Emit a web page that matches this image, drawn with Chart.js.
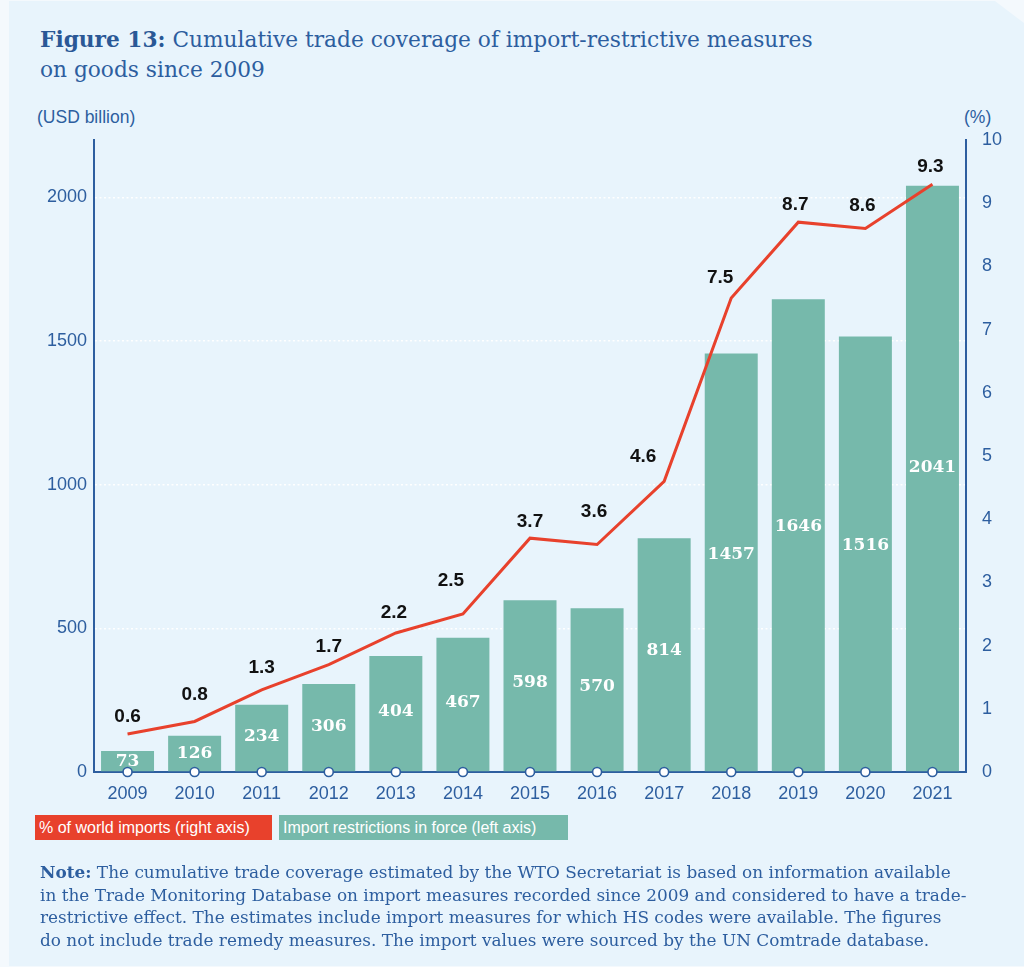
<!DOCTYPE html>
<html>
<head>
<meta charset="utf-8">
<script src="https://cdn.jsdelivr.net/npm/chart.js@4/dist/chart.umd.min.js"></script>
<style>
  html, body { margin: 0; padding: 0; }
  body { width: 1024px; height: 967px; background: #f4f9fd; position: relative; overflow: hidden; }
  #painel {
    position: absolute; left: 9px; top: 1px; width: 1015px; height: 965px;
    background: #e8f4fc;
    clip-path: polygon(0 0, 986px 0, 1015px 22px, 1015px 965px, 0 965px);
  }
  #titulo {
    position: absolute; left: 40px; top: 25px; margin: 0;
    font-family: "DejaVu Serif", serif; font-size: 21.7px; line-height: 30px;
    color: #2d5e9f; font-weight: normal; white-space: nowrap;
  }
  #titulo b { color: #2a5896; }
  .unidade {
    position: absolute; top: 107px; font-family: "Liberation Sans", Arial, sans-serif;
    font-size: 17.5px; color: #2d5e9f;
  }
  #grafico-wrap { position: absolute; left: 0; top: 0; width: 1024px; height: 967px; }
  #legenda { position: absolute; left: 35px; top: 815px; height: 25px; font-family: "Liberation Sans", Arial, sans-serif; font-size: 16px; color: #fff; }
  #legenda span { position: absolute; top: 0; height: 25px; line-height: 25px; padding: 0 4px; white-space: nowrap; }
  #nota {
    position: absolute; left: 40px; top: 861px; margin: 0;
    font-family: "DejaVu Serif", serif; font-size: 16.9px; line-height: 22.7px; color: #2d5e9f;
    white-space: nowrap;
  }
</style>
</head>
<body>
<div id="painel"></div>
<p id="titulo"><b>Figure 13:</b> Cumulative trade coverage of import-restrictive measures<br>on goods since 2009</p>
<div class="unidade" style="left:37px">(USD billion)</div>
<div class="unidade" style="left:964px">(%)</div>
<div id="grafico-wrap"><canvas id="grafico"></canvas></div>
<div id="legenda">
  <span style="left:0; width:229px; background:#e8412c;">% of world imports (right axis)</span>
  <span style="left:244px; width:281px; background:#76b9ab;">Import restrictions in force (left axis)</span>
</div>
<p id="nota"><b>Note:</b> The cumulative trade coverage estimated by the WTO Secretariat is based on information available<br>in the Trade Monitoring Database on import measures recorded since 2009 and considered to have a trade-<br>restrictive effect. The estimates include import measures for which HS codes were available. The figures<br>do not include trade remedy measures. The import values were sourced by the UN Comtrade database.</p>

<script>
// Dados
const anos = ["2009", "2010", "2011", "2012", "2013", "2014", "2015", "2016", "2017", "2018", "2019", "2020", "2021"];
const restricoes = [73, 126, 234, 306, 404, 467, 598, 570, 814, 1457, 1646, 1516, 2041];
const percentual = [0.6, 0.8, 1.3, 1.7, 2.2, 2.5, 3.7, 3.6, 4.6, 7.5, 8.7, 8.6, 9.3];
const ticksEsquerda = [0, 500, 1000, 1500, 2000];

const azul = "#2d5e9f";
const verde = "#76b9ab";
const vermelho = "#e8412c";
const fonteEixo = { family: "'Liberation Sans', Arial, sans-serif", size: 18 };

// Deslocamento de cada rótulo da linha em relação ao ponto
const desvios = [[0, -17], [0, -27], [0, -22], [0, -18], [-2, -20], [-12, -33], [0, -16],
  [-3, -33], [-21, -25], [-11, -20], [-3, -17], [-3, -23], [-2, -17]];

const rotulos = {
  id: "rotulos",
  afterDatasetsDraw(chart) {
    const ctx = chart.ctx;
    ctx.save();
    ctx.textAlign = "center";
    ctx.textBaseline = "middle";

    // Valores dentro das barras
    const barras = chart.getDatasetMeta(0).data;
    const base = chart.scales.y.getPixelForValue(0);
    ctx.fillStyle = "#fff";
    ctx.font = "bold 17px 'DejaVu Serif', serif";
    barras.forEach((b, i) => {
      const h = base - b.y;
      ctx.fillText(restricoes[i], b.x, base - h * 0.52);
    });

    // Valores da linha
    const pontos = chart.getDatasetMeta(1).data;
    ctx.fillStyle = "#111";
    ctx.font = "bold 19px 'Liberation Sans', Arial, sans-serif";
    pontos.forEach((p, i) => {
      const d = desvios[i] || [0, -18];
      ctx.fillText(percentual[i].toFixed(1), p.x + d[0], p.y + d[1]);
    });
    ctx.restore();
  },
  afterDraw(chart) {
    // Marcadores no eixo x
    const ctx = chart.ctx;
    const x = chart.scales.x;
    const y0 = chart.scales.y.getPixelForValue(0);
    ctx.save();
    ctx.fillStyle = "#fff";
    ctx.strokeStyle = azul;
    ctx.lineWidth = 1.6;
    x.ticks.forEach((t, i) => {
      ctx.beginPath();
      ctx.arc(x.getPixelForTick(i), y0, 4.5, 0, Math.PI * 2);
      ctx.fill();
      ctx.stroke();
    });
    ctx.restore();
  },
};

new Chart(document.getElementById("grafico"), {
  data: {
    labels: anos,
    datasets: [
      {
        type: "bar",
        label: "Import restrictions in force (left axis)",
        data: restricoes,
        backgroundColor: verde,
        yAxisID: "y",
        barPercentage: 0.79,
        categoryPercentage: 1,
        order: 2,
      },
      {
        type: "line",
        label: "% of world imports (right axis)",
        data: percentual,
        borderColor: vermelho,
        borderWidth: 3,
        pointRadius: 0,
        tension: 0,
        yAxisID: "y1",
        order: 1,
      },
    ],
  },
  options: {
    responsive: true,
    maintainAspectRatio: false,
    animation: false,
    layout: { padding: { top: 140, bottom: 155, left: 0, right: 0 } },
    plugins: { legend: { display: false }, tooltip: { enabled: false } },
    scales: {
      x: {
        grid: { display: false, drawTicks: false },
        border: { color: azul, width: 2 },
        ticks: { color: azul, padding: 11, font: fonteEixo },
        afterFit(s) { s.height = 40; },
      },
      y: {
        position: "left",
        min: 0,
        max: 2200,
        afterBuildTicks(s) { s.ticks = ticksEsquerda.map((v) => ({ value: v })); },
        grid: {
          drawTicks: false,
          color: (c) => (c.tick && c.tick.value > 0 ? "rgba(255,255,255,0.95)" : "rgba(0,0,0,0)"),
          lineWidth: 1.5,
        },
        border: { color: azul, width: 2, dash: [2, 2.5] },
        ticks: { color: azul, padding: 7, font: fonteEixo, callback: (v) => String(v) },
        afterFit(s) { s.width = 94; },
      },
      y1: {
        position: "right",
        min: 0,
        max: 10,
        ticks: { stepSize: 1, color: azul, padding: 16, font: fonteEixo },
        grid: { drawOnChartArea: false, drawTicks: false },
        border: { color: azul, width: 2 },
        afterFit(s) { s.width = 58; },
      },
    },
  },
  plugins: [rotulos],
});
</script>
</body>
</html>
